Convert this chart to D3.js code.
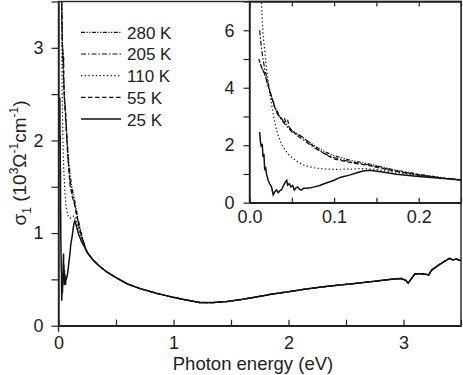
<!DOCTYPE html>
<html>
<head>
<meta charset="utf-8">
<script src="https://cdn.jsdelivr.net/npm/d3@7"></script>
<style>
  body { margin: 0; background: #fff; }
  text { font-family: "Liberation Sans", Arial, sans-serif; fill: #222; }
</style>
</head>
<body>
<svg id="chart" width="463" height="375"></svg>
<script>
// temperatures, in legend order
const temps = ["280 K", "205 K", "110 K", "55 K", "25 K"];

// far-infrared part, [photon energy (eV), sigma1 (10^3 / ohm cm)]
const far280 = [[0.011,5.0],[0.014,4.75],[0.018,4.45],[0.022,4.05],[0.026,3.7],[0.03,3.35],[0.035,3.05],[0.04,2.85],[0.045,2.68],[0.05,2.52],[0.06,2.32],[0.07,2.12],[0.08,1.92],[0.09,1.76],[0.1,1.64],[0.11,1.55],[0.12,1.47],[0.14,1.36],[0.17,1.15],[0.2,0.99],[0.23,0.86]];
const far205 = [[0.012,6.0],[0.014,5.4],[0.016,5.0],[0.018,4.65],[0.022,4.15],[0.026,3.7],[0.03,3.3],[0.035,3.0],[0.04,2.8],[0.045,2.62],[0.05,2.47],[0.06,2.26],[0.07,2.05],[0.08,1.85],[0.09,1.69],[0.1,1.57],[0.11,1.49],[0.12,1.42],[0.14,1.32],[0.17,1.13],[0.2,0.97],[0.23,0.85]];
const far110 = [[0.012,8.5],[0.014,7.0],[0.016,5.86],[0.02,4.7],[0.024,3.78],[0.028,3.09],[0.032,2.51],[0.0375,2.05],[0.045,1.71],[0.05,1.58],[0.057,1.42],[0.065,1.3],[0.077,1.21],[0.09,1.17],[0.1,1.16],[0.12,1.17],[0.135,1.19],[0.15,1.15],[0.17,1.07],[0.2,0.95],[0.23,0.85]];
const far55 = [[0.013,4.8],[0.015,4.65],[0.018,4.5],[0.02,4.3],[0.023,3.95],[0.026,3.65],[0.03,3.3],[0.034,3.02],[0.037,2.95],[0.039,2.88],[0.041,2.95],[0.043,2.82],[0.045,2.9],[0.047,2.62],[0.05,2.5],[0.055,2.4],[0.06,2.34],[0.063,2.28],[0.07,2.1],[0.08,1.86],[0.09,1.68],[0.1,1.52],[0.12,1.39],[0.14,1.3],[0.17,1.11],[0.2,0.96],[0.23,0.85]];
const far25 = [[0.012,2.46],[0.013,2.1],[0.014,1.94],[0.015,2.05],[0.016,1.59],[0.017,1.7],[0.018,1.13],[0.019,1.25],[0.02,1.01],[0.022,0.78],[0.024,0.65],[0.026,0.55],[0.028,0.27],[0.03,0.38],[0.032,0.44],[0.034,0.35],[0.036,0.42],[0.038,0.45],[0.04,0.58],[0.042,0.7],[0.044,0.78],[0.045,0.61],[0.047,0.66],[0.049,0.55],[0.051,0.6],[0.053,0.44],[0.055,0.52],[0.057,0.55],[0.059,0.47],[0.061,0.44],[0.064,0.5],[0.067,0.5],[0.072,0.52],[0.077,0.55],[0.083,0.6],[0.089,0.67],[0.095,0.73],[0.1,0.78],[0.107,0.88],[0.118,0.96],[0.128,1.05],[0.134,1.1],[0.142,1.13],[0.155,1.08],[0.174,0.99],[0.2,0.91],[0.23,0.84]];

// above ~0.25 eV all temperatures lie on one curve
const tail = [[0.25,0.79],[0.3,0.71],[0.35,0.65],[0.42,0.58],[0.5,0.52],[0.6,0.45],[0.71,0.40],[0.85,0.35],[1.0,0.306],[1.1,0.28],[1.23,0.25],[1.35,0.25],[1.46,0.26],[1.6,0.285],[1.72,0.31],[1.85,0.34],[2.0,0.367],[2.15,0.395],[2.3,0.42],[2.45,0.44],[2.59,0.457],[2.75,0.48],[2.88,0.50],[2.98,0.51],[3.02,0.49],[3.04,0.46],[3.07,0.51],[3.1,0.56],[3.16,0.56],[3.22,0.55],[3.245,0.6],[3.3,0.65],[3.35,0.69],[3.4,0.727],[3.43,0.71],[3.46,0.72],[3.5,0.70]];

const mainXTicks = [0, 0.5, 1, 1.5, 2, 2.5, 3, 3.5];
const mainYTicks = [0, 0.5, 1, 1.5, 2, 2.5, 3, 3.5];
const insetXTicks = [0, 0.05, 0.1, 0.15, 0.2, 0.25];
const insetYTicks = [0, 1, 2, 3, 4, 5, 6, 7];

const series = [far280, far205, far110, far55, far25].map((d, i) => ({
  name: temps[i],
  values: d.concat(tail)
}));

const dash = ["4,1.5,1.2,1.5,1.2,1.5", "5,2,1.5,2", "1.3,2.4", "4.5,2.5", null];

const svg = d3.select("#chart");
const ink = "#222";

// main panel
const m = { left: 58.5, right: 461, top: 1.5, bottom: 325.7 };
const x = d3.scaleLinear().domain([0, 3.5]).range([m.left, m.right]);
const y = d3.scaleLinear().domain([0, 3.5]).range([m.bottom, m.top]);

// inset panel
const n = { left: 249.5, right: 461, top: 1.5, bottom: 202.7 };
const xi = d3.scaleLinear().domain([0, 0.25]).range([n.left, n.right]);
const yi = d3.scaleLinear().domain([0, 7]).range([n.bottom, n.top]);

const defs = svg.append("defs");
defs.append("clipPath").attr("id", "clipMain").append("rect")
  .attr("x", m.left).attr("y", m.top).attr("width", m.right - m.left).attr("height", m.bottom - m.top);
defs.append("clipPath").attr("id", "clipInset").append("rect")
  .attr("x", n.left).attr("y", n.top).attr("width", n.right - n.left).attr("height", n.bottom - n.top);

function styleAxis(g) {
  g.selectAll("path").attr("stroke", ink).attr("stroke-width", 1.4);
  g.selectAll("line").attr("stroke", ink).attr("stroke-width", 1.2);
  g.selectAll("text").attr("fill", ink).style("font-size", "18px")
    .style("font-family", '"Liberation Sans", Arial, sans-serif');
}

// main curves
const line = d3.line().x(d => x(d[0])).y(d => y(d[1]));
svg.append("g").attr("clip-path", "url(#clipMain)")
  .selectAll("path").data(series).join("path")
  .attr("d", d => line(d.values))
  .attr("fill", "none")
  .attr("stroke", "#111")
  .attr("stroke-width", (d, i) => i === 4 ? 1.5 : 1.2)
  .attr("stroke-dasharray", (d, i) => dash[i]);

// main frame and axes
svg.append("rect").attr("x", m.left).attr("y", m.top)
  .attr("width", m.right - m.left).attr("height", m.bottom - m.top)
  .attr("fill", "none").attr("stroke", ink).attr("stroke-width", 1.4);

svg.append("g").attr("transform", `translate(0,${m.bottom})`)
  .call(d3.axisBottom(x).tickValues(mainXTicks).tickSizeInner(-6).tickSizeOuter(0).tickPadding(11)
    .tickFormat(d => Number.isInteger(d) ? d : ""))
  .call(styleAxis);

svg.append("g").attr("transform", `translate(${m.left},0)`)
  .call(d3.axisLeft(y).tickValues(mainYTicks).tickSizeInner(7).tickSizeOuter(0).tickPadding(8)
    .tickFormat(d => Number.isInteger(d) ? d : ""))
  .call(styleAxis);

// extend left axis a little below the bottom axis
svg.append("line").attr("x1", m.left).attr("x2", m.left).attr("y1", m.bottom).attr("y2", m.bottom + 6)
  .attr("stroke", ink).attr("stroke-width", 1.4);

// axis titles
svg.append("text").attr("x", 253).attr("y", 369.5).attr("text-anchor", "middle")
  .style("font-size", "18.5px").text("Photon energy (eV)");

const yt = svg.append("text").attr("transform", "translate(26,163) rotate(-90)")
  .attr("text-anchor", "middle").style("font-size", "19px");
yt.append("tspan").text("σ");
yt.append("tspan").attr("dy", 5).style("font-size", "12px").text("1");
yt.append("tspan").attr("dy", -5).text(" (10");
yt.append("tspan").attr("dy", -8).style("font-size", "12px").text("3");
yt.append("tspan").attr("dy", 8).text("Ω");
yt.append("tspan").attr("dy", -8).style("font-size", "12px").text("-1");
yt.append("tspan").attr("dy", 8).text("cm");
yt.append("tspan").attr("dy", -8).style("font-size", "12px").text("-1");
yt.append("tspan").attr("dy", 8).text(")");

// legend
const rowY = d3.scaleLinear().domain([0, 4]).range([32.3, 119]);
const leg = svg.append("g").selectAll("g").data(series).join("g")
  .attr("transform", (d, i) => `translate(0,${rowY(i)})`);
leg.append("line").attr("x1", 81).attr("x2", 121)
  .attr("stroke", "#111")
  .attr("stroke-width", (d, i) => i === 4 ? 1.5 : 1.2)
  .attr("stroke-dasharray", (d, i) => dash[i]);
leg.append("text").attr("x", 127).attr("y", 6.5).style("font-size", "17px").text(d => d.name);

// inset
svg.append("rect").attr("x", n.left).attr("y", n.top)
  .attr("width", n.right - n.left).attr("height", n.bottom - n.top).attr("fill", "#fff");

const lineI = d3.line().x(d => xi(d[0])).y(d => yi(d[1]));
svg.append("g").attr("clip-path", "url(#clipInset)")
  .selectAll("path").data(series).join("path")
  .attr("d", d => lineI(d.values.filter(p => p[0] <= 0.3)))
  .attr("fill", "none")
  .attr("stroke", "#111")
  .attr("stroke-width", (d, i) => i === 4 ? 1.5 : 1.2)
  .attr("stroke-dasharray", (d, i) => dash[i]);

svg.append("rect").attr("x", n.left).attr("y", n.top)
  .attr("width", n.right - n.left).attr("height", n.bottom - n.top)
  .attr("fill", "none").attr("stroke", ink).attr("stroke-width", 1.4);

svg.append("g").attr("transform", `translate(0,${n.bottom})`)
  .call(d3.axisBottom(xi).tickValues(insetXTicks).tickSizeInner(-5).tickSizeOuter(0).tickPadding(8)
    .tickFormat(d => [0, 0.1, 0.2].includes(d) ? d3.format(".1f")(d) : ""))
  .call(styleAxis);

svg.append("g").attr("transform", `translate(0,${n.top})`)
  .call(d3.axisTop(xi).tickValues(insetXTicks).tickSizeInner(-5).tickSizeOuter(0).tickFormat(""))
  .call(styleAxis);

svg.append("g").attr("transform", `translate(${n.left},0)`)
  .call(d3.axisLeft(yi).tickValues(insetYTicks).tickSizeInner(6).tickSizeOuter(0).tickPadding(9)
    .tickFormat(d => d % 2 === 0 ? d : ""))
  .call(styleAxis);
</script>
</body>
</html>
